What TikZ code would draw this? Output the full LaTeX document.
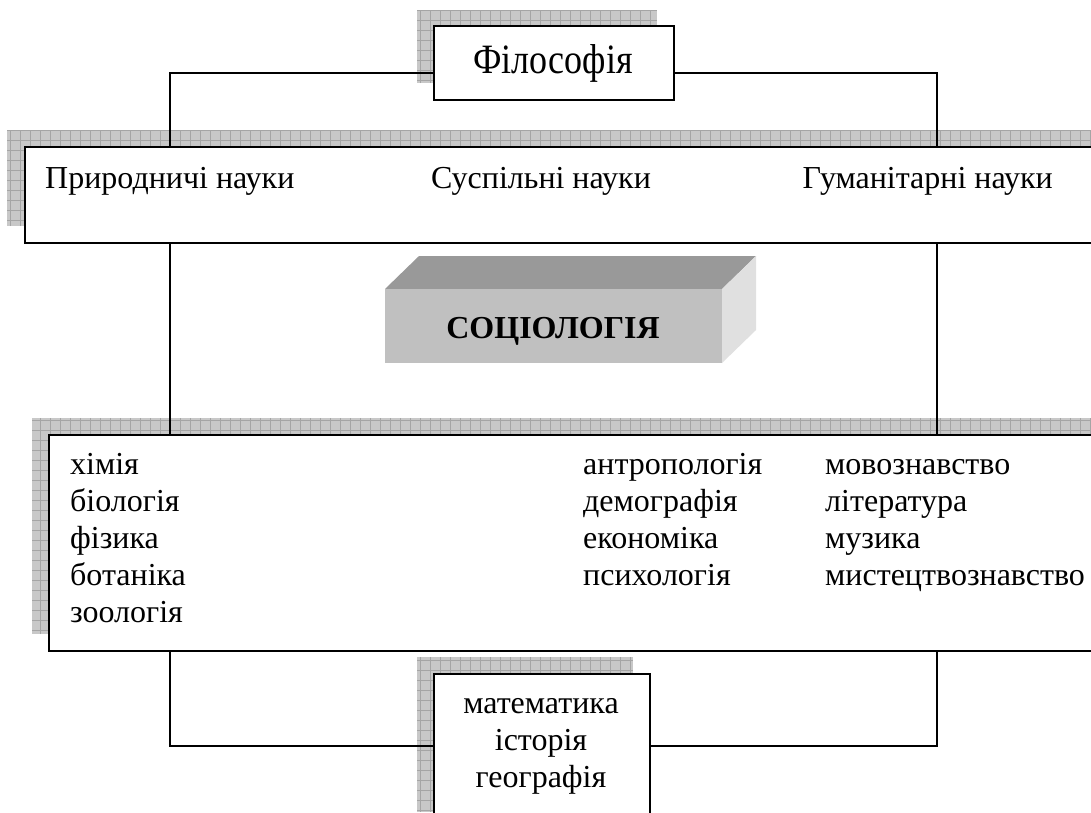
\documentclass[tikz,border=0pt]{standalone}
\usepackage{fontspec}
\setmainfont{Liberation Serif}
\definecolor{shadowgray}{RGB}{200,200,200}
\definecolor{gridgray}{RGB}{165,165,165}
\definecolor{frontgray}{RGB}{192,192,192}
\definecolor{topgray}{RGB}{153,153,153}
\definecolor{sidegray}{RGB}{224,224,224}
\tikzset{
  box/.style={draw=black, line width=1.6pt, fill=white, anchor=north west, inner sep=0pt},
  conn/.style={draw=black, line width=1.6pt},
  txt/.style={inner sep=0pt, font=\fontsize{32}{37}\selectfont},
}
\newcommand{\gridshadow}[4]{%
  \begin{scope}
    \clip (#1,#2) rectangle (#3,#4);
    \fill[shadowgray] (#1,#2) rectangle (#3,#4);
    \draw[gridgray, line width=0.5pt, step=10pt] (#1,#2) grid (#3,#4);
  \end{scope}}
\begin{document}
\begin{tikzpicture}[x=1pt,y=-1pt]
\clip (0,0) rectangle (1091,812);
\fill[white] (0,0) rectangle (1091,812);
% shadows
\gridshadow{417}{10}{657}{83}
\gridshadow{7}{130}{1091}{226}
\gridshadow{32}{418}{1091}{634}
\gridshadow{417}{657}{633}{812}
% column coordinates
\coordinate (lcol) at (170,0);
\coordinate (rcol) at (937,0);
% boxes
\node[box, minimum width=240pt, minimum height=74pt] (phil) at (433,25) {};
\node[txt, font=\fontsize{36}{40}\selectfont, anchor=base] (philt) at (553,73) {\scalebox{1}[1.16]{Філософія}};
\node[box, minimum width=1080pt, minimum height=96pt] (sci) at (24,146) {};
\node[box, minimum width=1060pt, minimum height=216pt] (bot) at (48,434) {};
\node[box, minimum width=216pt, minimum height=144pt] (math) at (433,673) {};
% connectors
\draw[conn] ([yshift=-10pt]phil.west) -| (sci.north -| lcol);
\draw[conn] ([yshift=-10pt]phil.east) -| (sci.north -| rcol);
\draw[conn] (sci.south -| lcol) -- (bot.north -| lcol);
\draw[conn] (sci.south -| rcol) -- (bot.north -| rcol);
\draw[conn] (bot.south -| lcol) |- (math.west);
\draw[conn] (bot.south -| rcol) |- (math.east);
% science labels
\node[txt, anchor=base west] (nat) at (45,188) {Природничі науки};
\node[txt, anchor=base] (soc) at (541,188) {Суспільні науки};
\node[txt, anchor=base east] (hum) at (1053,188) {Гуманітарні науки};
% 3D box
\fill[topgray] (385,289) -- (419,256) -- (756,256) -- (722,289) -- cycle;
\fill[sidegray] (722,289) -- (756,256) -- (756,330) -- (722,363) -- cycle;
\fill[frontgray] (385,289) rectangle (722,363);
\node[txt, font=\bfseries\fontsize{32}{36}\selectfont, anchor=base] (socio) at (553,338) {СОЦІОЛОГІЯ};
% lists
\node[txt, anchor=north west, align=left] (col1) at (70,448) {\strut хімія\\біологія\\фізика\\ботаніка\\зоологія};
\node[txt, anchor=north west, align=left] (col2) at (583,448) {\strut антропологія\\демографія\\економіка\\психологія};
\node[txt, anchor=north west, align=left] (col3) at (825,448) {\strut мовознавство\\література\\музика\\мистецтвознавство};
\node[txt, anchor=north, align=center] (matht) at (541,687) {\strut математика\\історія\\географія};
\end{tikzpicture}
\end{document}
